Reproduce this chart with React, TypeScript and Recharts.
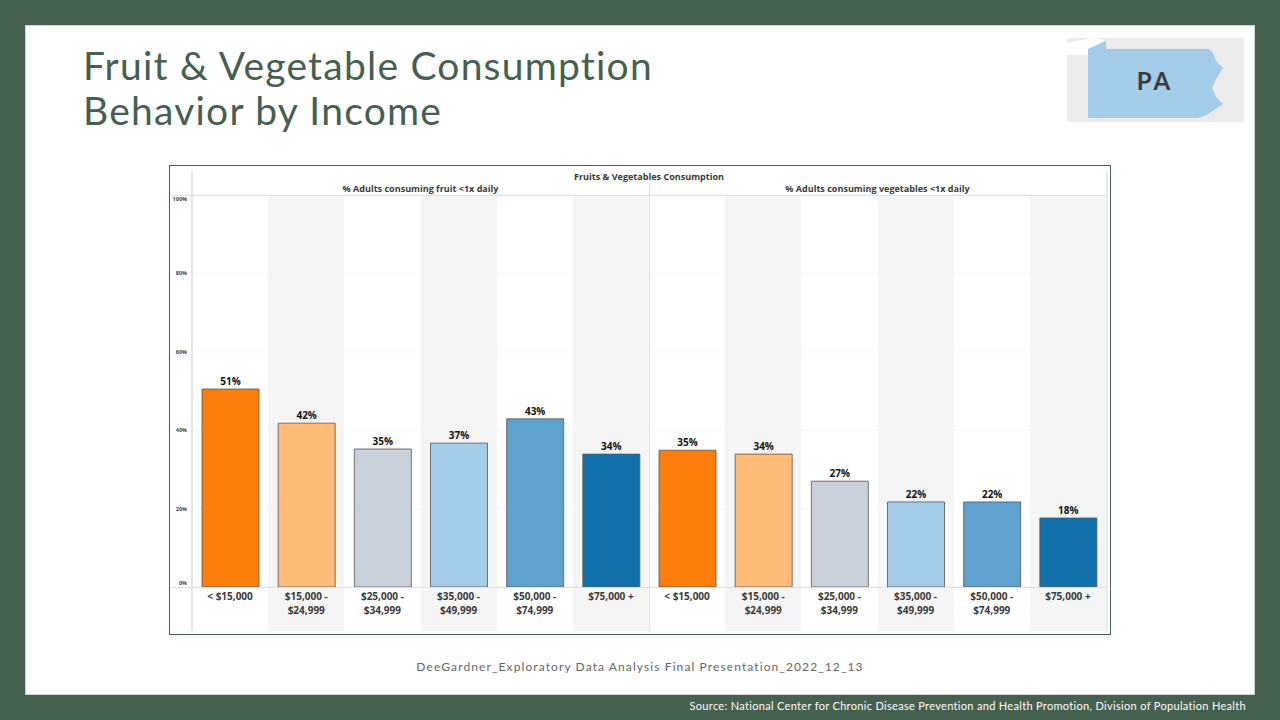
import { BarChart, Bar, XAxis, YAxis, CartesianGrid, Cell, LabelList } from "recharts";

const CATEGORIES = ["< $15,000", "$15,000 - $24,999", "$25,000 - $34,999", "$35,000 - $49,999", "$50,000 - $74,999", "$75,000 +"];
const FRUIT = [50.5, 41.8, 35.2, 36.7, 42.9, 33.9];
const VEGETABLES = [34.9, 33.9, 27, 21.7, 21.7, 17.6];
const COLORS = ["#fc7d0b", "#ffbc79", "#c8d0d9", "#a3cce9", "#5fa2ce", "#1170aa"];
const Y_TICKS = [0, 20, 40, 60, 80, 100];

const GREEN = "#466050";
const CHART_FONT = "'Open Sans', sans-serif";
const SLIDE_FONT = "Lato, sans-serif";

// band layout of the Tableau panels
const PLOT_LEFT = 192;
const PANEL_W = 457;
const BAND = PANEL_W / 6;

function IncomeTick({ x, y, payload }: any) {
    const parts = payload.value.split(" - ");
    const lines = parts.length > 1 ? [parts[0] + " -", parts[1]] : parts;
    return (
        <text x={x} y={y} textAnchor="middle" fontSize={10} fontWeight={700} fill="#3a3a3a" fontFamily={CHART_FONT}>
            {lines.map((l: string, i: number) => (
                <tspan key={i} x={x} dy={i === 0 ? 5 : 13.5}>{l}</tspan>
            ))}
        </text>
    );
}

// end ticks sit inside the plot, like Tableau draws them
function PercentTick({ x, y, payload }: any) {
    const shift = payload.value === 100 ? 4 : payload.value === 0 ? -4 : 0;
    return (
        <text x={x + 3} y={y + shift + 2} textAnchor="end" fontSize={5.5} fontWeight={700} fill="#444" fontFamily={CHART_FONT}>
            {payload.value}%
        </text>
    );
}

function Panel({ values, left, width, showAxis }: { values: number[]; left: number; width: number; showAxis: boolean }) {
    const rows = CATEGORIES.map((name, i) => ({ name, value: values[i] }));
    return (
        <div style={{ position: "absolute", left, top: 165 }}>
            <BarChart width={width} height={469} data={rows} margin={{ top: 30, right: 0, bottom: 0, left: 0 }} barSize={57}>
                <CartesianGrid vertical={false} stroke="#f5f5f5" />
                <XAxis dataKey="name" interval={0} height={47} axisLine={false} tickLine={false} tick={<IncomeTick />} />
                <YAxis
                    hide={!showAxis}
                    width={23}
                    domain={[0, 100]}
                    ticks={Y_TICKS}
                    axisLine={false}
                    tickLine={false}
                    tick={<PercentTick />}
                />
                <Bar dataKey="value" stroke="#555" strokeWidth={0.8} isAnimationActive={false}>
                    {rows.map((r, i) => (
                        <Cell key={r.name} fill={COLORS[i]} />
                    ))}
                    <LabelList
                        dataKey="value"
                        position="top"
                        offset={4}
                        formatter={(v: any) => Math.round(v) + "%"}
                        style={{ fontSize: 10, fontWeight: 700, fill: "#111", fontFamily: CHART_FONT }}
                    />
                </Bar>
            </BarChart>
        </div>
    );
}

const abs = (left: number, top: number, width: number, height: number, background: string) => ({
    position: "absolute" as const, left, top, width, height, background,
});

const headerStyle = {
    position: "absolute" as const,
    textAlign: "center" as const,
    fontFamily: CHART_FONT,
    fontSize: 9.05,
    fontWeight: 700,
    color: "#3a3a3a",
};

export default function App() {
    return (
        <div style={{ position: "absolute", left: 0, top: 0, width: 1280, height: 720, background: GREEN, overflow: "hidden" }}>
            <div style={{ ...abs(25, 25, 1230, 670, "#fff"), boxSizing: "border-box", border: "1px solid #d0d0d0" }} />

            <div style={{ position: "absolute", left: 83, top: 43, fontFamily: SLIDE_FONT, fontSize: 39, fontWeight: 400, lineHeight: "45px", letterSpacing: 1.22, color: GREEN }}>
                Fruit &amp; Vegetable Consumption<br />Behavior by Income
            </div>

            {/* state badge */}
            <svg style={{ position: "absolute", left: 1066, top: 38 }} width={178} height={84}>
                <rect x={1} y={0} width={177} height={84} rx={2} fill="#ebebeb" />
                <polygon points="0,5 27,0 39,2 22,11 22,17 0,17" fill="#fff" />
                <polygon
                    points="22,11 40,3 40,11 143,11 147,15 150,23 157,30 150,41 146,50 150,59 157,66 141,77 132,80 22,80"
                    fill="#a3cce9"
                />
                <text x={89} y={52} textAnchor="middle" fontSize={24} fontWeight={700} letterSpacing={3} fill="#3a3a3a" fontFamily={SLIDE_FONT}>PA</text>
            </svg>

            {/* chart frame */}
            <div style={{ ...abs(169, 165, 942, 470, "#fff"), boxSizing: "border-box", border: `1px solid ${GREEN}` }} />
            {[0, 1].map((p) =>
                [1, 3, 5].map((b) => (
                    <div key={`${p}-${b}`} style={abs(PLOT_LEFT + p * PANEL_W + b * BAND, 195, BAND, 436, "#f5f5f5")} />
                ))
            )}

            <Panel values={FRUIT} left={169} width={480} showAxis />
            <Panel values={VEGETABLES} left={649} width={457} showAxis={false} />

            {/* panel rules */}
            <div style={abs(191, 171, 2, 460, "#e6e6e6")} />
            <div style={abs(649, 184, 1, 447, "#e2e2e2")} />
            <div style={abs(1106, 171, 2, 460, "#ebebeb")} />
            <div style={abs(172, 195, 934, 1, "#e0e0e0")} />
            <div style={abs(172, 587, 934, 1, "#e0e0e0")} />

            <div style={{ ...headerStyle, left: 192, width: 914, top: 170 }}>
                Fruits &amp; Vegetables Consumption
            </div>
            <div style={{ ...headerStyle, left: 192, width: 457, top: 182 }}>
                % Adults consuming fruit &lt;1x daily
            </div>
            <div style={{ ...headerStyle, left: 649, width: 457, top: 182 }}>
                % Adults consuming vegetables &lt;1x daily
            </div>

            <div style={{ position: "absolute", left: 340, width: 600, top: 659, textAlign: "center", fontFamily: SLIDE_FONT, fontSize: 12, letterSpacing: 1.1, color: "#666" }}>
                DeeGardner_Exploratory Data Analysis Final Presentation_2022_12_13
            </div>
            <div style={{ position: "absolute", right: 34, top: 699, fontFamily: SLIDE_FONT, fontSize: 11, fontWeight: 400, letterSpacing: 0.32, color: "#fff", whiteSpace: "nowrap" }}>
                Source: National Center for Chronic Disease Prevention and Health Promotion, Division of Population Health
            </div>
        </div>
    );
}
